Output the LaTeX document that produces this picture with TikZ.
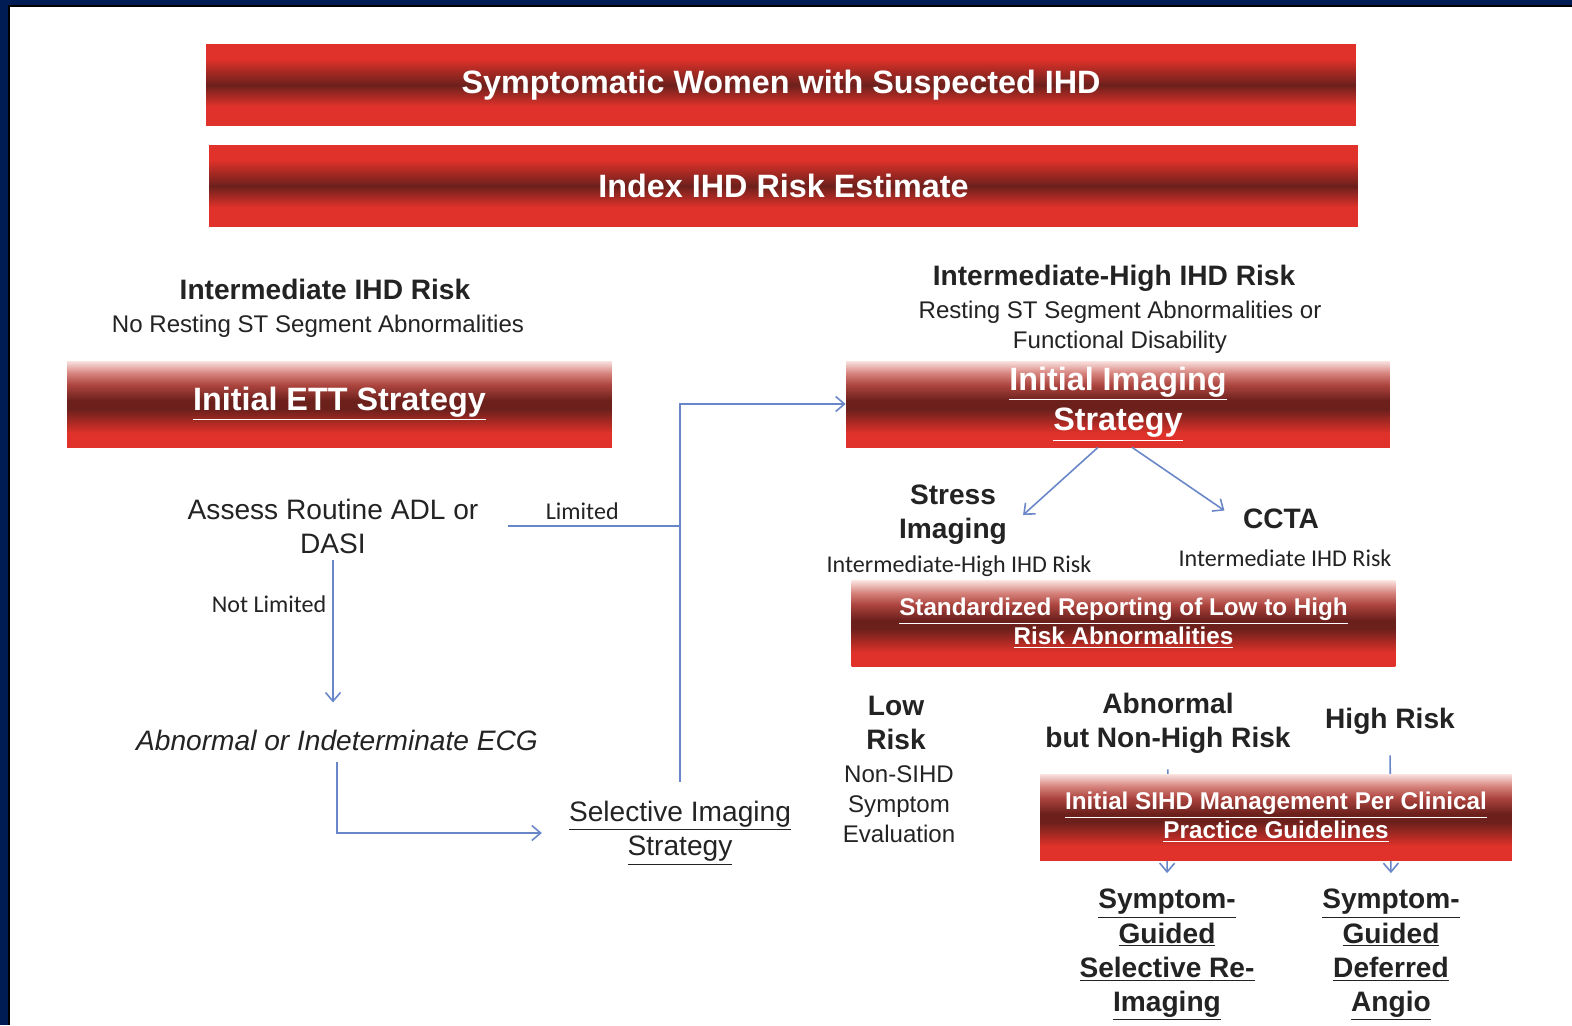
\documentclass[tikz,border=0pt]{standalone}
\usepackage{fontspec}
\setmainfont{Liberation Sans}
\newfontfamily\calfont{Carlito}
\usetikzlibrary{arrows.meta}

\definecolor{barred}{RGB}{224,50,42}
\definecolor{bardark}{RGB}{108,32,28}
\definecolor{barpink}{RGB}{250,226,223}
\definecolor{barrose}{RGB}{215,132,126}
\definecolor{barmuted}{RGB}{172,68,62}
\definecolor{linkblue}{RGB}{105,135,200}
\definecolor{inkgray}{RGB}{35,35,35}
\definecolor{framenavy}{RGB}{0,28,85}

\pgfdeclareverticalshading{barplain}{100bp}{color(0bp)=(barred); color(25bp)=(barred); color(37bp)=(barred); color(50bp)=(bardark); color(66bp)=(barred); color(75bp)=(barred); color(100bp)=(barred)}
\pgfdeclareverticalshading{barglow}{100bp}{color(0bp)=(barred); color(25bp)=(barred); color(33bp)=(barred); color(47bp)=(bardark); color(52bp)=(bardark); color(61bp)=(barmuted); color(68bp)=(barrose); color(75bp)=(barpink); color(100bp)=(barpink)}

\begin{document}
\begin{tikzpicture}[
    x=0.02cm, y=-0.02cm,
    head/.style={rectangle, shading=barplain, text=white, inner sep=0pt, minimum height=1.64cm, font=\fontsize{18.4}{22}\selectfont\bfseries},
    bar/.style={rectangle, shading=barglow, text=white, inner sep=0pt, align=center, minimum width=10.88cm, minimum height=1.72cm, font=\fontsize{18.4}{22.8}\selectfont\bfseries},
    smallbar/.style={bar, font=\fontsize{13.8}{16.5}\selectfont\bfseries},
    btitle/.style={text=inkgray, align=center, font=\fontsize{16}{19.4}\selectfont\bfseries},
    plain/.style={text=inkgray, align=center, font=\fontsize{16}{19.4}\selectfont},
    sub/.style={text=inkgray, align=center, font=\fontsize{13.7}{17}\selectfont},
    note/.style={text=inkgray, font=\calfont\fontsize{13.7}{16}\selectfont},
    link/.style={draw=linkblue, line width=0.9pt},
    tip/.style={-{Straight Barb[length=5pt,width=8.5pt]}}
]
    % Marco de la diapositiva
    \useasboundingbox (0,0) rectangle (1572,1025);
    \fill[framenavy] (0,0) rectangle (1572,1025);
    \fill[black] (8,5) rectangle (1572,1025);
    \fill[white] (9.5,6.5) rectangle (1572,1025);

    % Barras de cabecera
    \node[head, minimum width=23cm] (sym) at (781,85) {Symptomatic Women with Suspected IHD};
    \node[head, minimum width=22.98cm] (idx) at (783.5,186) {Index IHD Risk Estimate};

    % Rama izquierda: riesgo intermedio
    \node[btitle] (intlo) at (325,289) {Intermediate IHD Risk};
    \node[sub] (intlosub) at (318,326) {No Resting ST Segment Abnormalities};
    \node[bar, minimum width=10.9cm] (ett) at (339.5,404) {\underline{Initial ETT Strategy}};
    \node[plain] (assess) at (333,526) {Assess Routine ADL or\\DASI};
    \node[plain, font=\fontsize{16}{19.4}\selectfont\itshape] (ecg) at (337,740) {Abnormal or Indeterminate ECG};
    \node[plain] (sel) at (680,833) {\underline{Selective Imaging}\\\underline{Strategy}};

    % Rama derecha: riesgo intermedio-alto
    \node[btitle] (inthi) at (1114,278) {Intermediate-High IHD Risk};
    \node[sub] (inthisub) at (1120,327) {Resting ST Segment Abnormalities or\\Functional Disability};
    \node[bar] (img) at (1118,404) {\underline{Initial Imaging}\\\underline{Strategy}};
    \node[btitle] (stress) at (953,515) {Stress\\Imaging};
    \node[btitle] (ccta) at (1281,519) {CCTA};
    \node[note] (stresssub) at (959,566) {Intermediate-High IHD Risk};
    \node[note] (cctasub) at (1285,558) {Intermediate IHD Risk};
    \node[smallbar] (std) at (1123.5,623.5) {\underline{Standardized Reporting of Low to High}\\\underline{Risk Abnormalities}};

    % Resultados
    \node[btitle] (low) at (896,723) {Low\\Risk};
    \node[sub] (lowsub) at (899,804) {Non-SIHD\\Symptom\\Evaluation};
    \node[btitle] (abn) at (1168,723) {Abnormal\\but Non-High Risk};
    \node[btitle] (high) at (1390,721) {High Risk};
    \node[btitle] (rerun) at (1167,955) {\underline{Symptom-}\\\underline{Guided}\\\underline{Selective Re-}\\\underline{Imaging}};
    \node[btitle] (angio) at (1391,955) {\underline{Symptom-}\\\underline{Guided}\\\underline{Deferred}\\\underline{Angio}};

    % Flechas de la rama izquierda
    \draw[link, shorten <=0.46cm] (assess.east) -- (assess.east -| sel.north) node[pos=0.5, above, note] {Limited};
    \draw[link, tip, shorten <=0.26cm] (sel.north) |- (img.west);
    \draw[link, tip, shorten >=0.42cm] (assess.south) -- (assess.south |- ecg.north) node[pos=0.27, left, note] {Not Limited};
    \draw[link, tip, shorten <=0.1cm, shorten >=0.42cm] (ecg.south) |- (sel.west);

    % Flechas de la rama derecha
    \draw[link, tip] ([xshift=-0.4cm]img.south) -- ([xshift=0.2cm]stress.east);
    \draw[link, tip, shorten >=0.3cm] ([xshift=0.28cm]img.south) -- (ccta.west);
    \draw[link, tip, shorten <=0.2cm, shorten >=0.2cm] (abn.south) -- (rerun.north);
    \draw[link, tip, shorten <=0.3cm, shorten >=0.2cm] (high.south) -- (angio.north);

    % Caja encima de las flechas
    \node[smallbar, minimum width=9.44cm] (sihd) at (1276,817) {\underline{Initial SIHD Management Per Clinical}\\\underline{Practice Guidelines}};
\end{tikzpicture}
\end{document}
